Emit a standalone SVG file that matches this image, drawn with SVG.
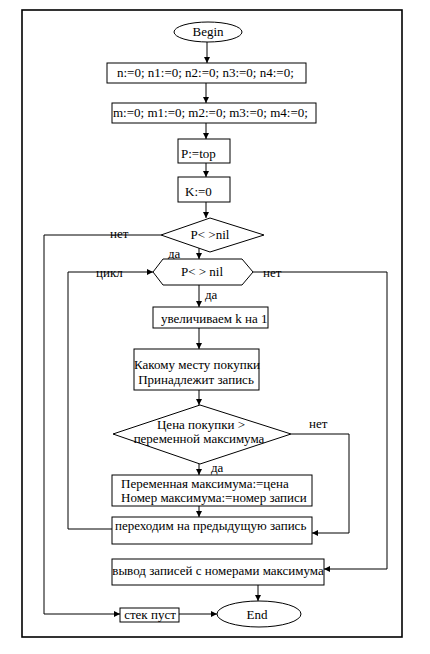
<svg xmlns="http://www.w3.org/2000/svg" width="430" height="654" viewBox="0 0 430 654">
<defs>
<marker id="ah" markerWidth="6" markerHeight="6" refX="6" refY="3" orient="auto" markerUnits="userSpaceOnUse">
<path d="M0,0 L6,3 L0,6 Z" fill="#000"/>
</marker>
</defs>
<style>
.n{fill:#fff;stroke:#000;stroke-width:1}
.t{font-family:"Liberation Serif","Times New Roman",serif;font-size:13px;fill:#000}
.c{text-anchor:middle}
.l{fill:none;stroke:#000;stroke-width:1}
.a{fill:none;stroke:#000;stroke-width:1;marker-end:url(#ah)}
</style>
<rect x="0" y="0" width="430" height="654" fill="#fff"/>
<rect x="22" y="10" width="380" height="627" fill="none" stroke="#000" stroke-width="1.6"/>
<g id="connectors">
<path class="a" d="M207,42 V63"/>
<path class="a" d="M206,83 V103"/>
<path class="a" d="M206,123 V139"/>
<path class="a" d="M206,163 V177"/>
<path class="a" d="M206,202 V218"/>
<path class="a" d="M199,248 V259"/>
<path class="a" d="M161,235 H44 V614 H120"/>
<path class="a" d="M68,529 V272 H153"/>
<path class="a" d="M253,272 H387 V569 H324"/>
<path class="a" d="M199,285 V307"/>
<path class="a" d="M199,328 V349"/>
<path class="a" d="M199,390 V405"/>
<path class="a" d="M291,434 H349 V533 H312"/>
<path class="a" d="M199,464 V475"/>
<path class="a" d="M199,506 V517"/>
<path class="l" d="M68,529 H112"/>
<path class="a" d="M258,585 V601"/>
<path class="a" d="M179,614 H217"/>
</g>
<g id="begin"><ellipse class="n" cx="208" cy="32" rx="34" ry="10"/><text class="t c" x="208" y="36">Begin</text></g>
<g id="init-n"><rect class="n" x="107" y="63" width="199" height="20"/><text class="t" x="117" y="77">n:=0; n1:=0; n2:=0; n3:=0; n4:=0;</text></g>
<g id="init-m"><rect class="n" x="112" y="103" width="204" height="20"/><text class="t" x="113" y="117">m:=0; m1:=0; m2:=0; m3:=0; m4:=0;</text></g>
<g id="p-top"><rect class="n" x="178" y="139" width="52" height="24"/><text class="t" x="181" y="158">P:=top</text></g>
<g id="k-zero"><rect class="n" x="178" y="177" width="52" height="25"/><text class="t" x="185" y="196">K:=0</text></g>
<g id="cond1"><polygon class="n" points="210,218 264,235 210,252 161,235"/><text class="t c" x="210" y="239">P&lt; &gt;nil</text></g>
<text class="t" x="110" y="238">нет</text>
<text class="t" x="168" y="258">да</text>
<g id="loop"><polygon class="n" points="163,259 242,259 253,272 242,285 163,285 153,272"/><text class="t c" x="202" y="276">P&lt; &gt; nil</text></g>
<text class="t" x="96" y="277">цикл</text>
<text class="t" x="263" y="277">нет</text>
<text class="t" x="205" y="299">да</text>
<g id="inc-k"><rect class="n" x="153" y="307" width="115" height="21"/><text class="t" x="161" y="323">увеличиваем k на 1</text></g>
<g id="place"><rect class="n" x="134" y="349" width="125" height="41"/><text class="t c" x="197" y="369">Какому месту покупки</text><text class="t c" x="196" y="384">Принадлежит запись</text></g>
<g id="cond2"><polygon class="n" points="200,405 291,434 200,464 113,434"/><text class="t c" x="201" y="429">Цена покупки &gt;</text><text class="t c" x="199" y="443">переменной максимума</text></g>
<text class="t" x="309" y="428">нет</text>
<text class="t" x="211" y="472">да</text>
<g id="assign"><rect class="n" x="112" y="475" width="200" height="31"/><text class="t" x="121" y="488">Переменная максимума:=цена</text><text class="t" x="121" y="502">Номер максимума:=номер записи</text></g>
<g id="prev"><rect class="n" x="112" y="517" width="200" height="27"/><text class="t" x="115" y="530">переходим на предыдущую запись</text></g>
<g id="output"><rect class="n" x="112" y="559" width="212" height="26"/><text class="t c" x="218" y="575">вывод записей с номерами максимума</text></g>
<g id="empty"><rect class="n" x="120" y="608" width="59" height="14"/><text class="t c" x="150" y="619">стек пуст</text></g>
<g id="end"><ellipse class="n" cx="259" cy="614" rx="42" ry="13"/><text class="t c" x="257" y="619">End</text></g>
</svg>
